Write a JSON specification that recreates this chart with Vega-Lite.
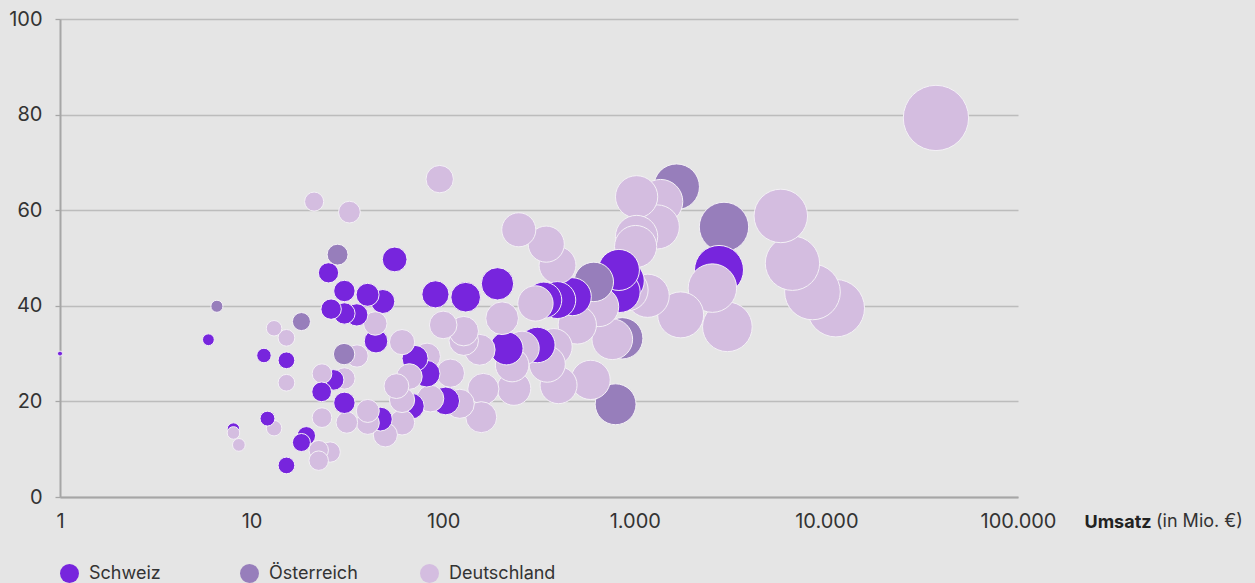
{
  "$schema": "https://vega.github.io/schema/vega-lite/v6.json",
  "width": 958,
  "height": 478,
  "autosize": {"type": "none"},
  "padding": {"left": 60, "top": 19, "right": 237, "bottom": 86},
  "background": "#e5e5e5",
  "config": {"view": {"stroke": null}, "font": "Inter"},
  "layer": [
    {
      "data": {"values": [
        {"Land": "Schweiz", "Umsatz": 1.0, "Wert": 30.0},
        {"Land": "Schweiz", "Umsatz": 5.95, "Wert": 32.9},
        {"Land": "Österreich", "Umsatz": 6.59, "Wert": 39.9},
        {"Land": "Deutschland", "Umsatz": 13.1, "Wert": 35.3},
        {"Land": "Deutschland", "Umsatz": 15.2, "Wert": 33.3},
        {"Land": "Österreich", "Umsatz": 18.2, "Wert": 36.7},
        {"Land": "Schweiz", "Umsatz": 11.6, "Wert": 29.6},
        {"Land": "Schweiz", "Umsatz": 15.2, "Wert": 28.6},
        {"Land": "Deutschland", "Umsatz": 15.2, "Wert": 23.9},
        {"Land": "Schweiz", "Umsatz": 12.1, "Wert": 16.4},
        {"Land": "Deutschland", "Umsatz": 13.1, "Wert": 14.4},
        {"Land": "Schweiz", "Umsatz": 8.04, "Wert": 14.2},
        {"Land": "Deutschland", "Umsatz": 8.04, "Wert": 13.4},
        {"Land": "Deutschland", "Umsatz": 8.58, "Wert": 10.9},
        {"Land": "Schweiz", "Umsatz": 19.3, "Wert": 12.8},
        {"Land": "Schweiz", "Umsatz": 18.2, "Wert": 11.4},
        {"Land": "Schweiz", "Umsatz": 15.2, "Wert": 6.6},
        {"Land": "Deutschland", "Umsatz": 22.4, "Wert": 9.8},
        {"Land": "Deutschland", "Umsatz": 25.7, "Wert": 9.4},
        {"Land": "Deutschland", "Umsatz": 22.4, "Wert": 7.6},
        {"Land": "Deutschland", "Umsatz": 23.3, "Wert": 16.6},
        {"Land": "Schweiz", "Umsatz": 30.5, "Wert": 19.7},
        {"Land": "Deutschland", "Umsatz": 31.4, "Wert": 15.6},
        {"Land": "Deutschland", "Umsatz": 40.4, "Wert": 15.5},
        {"Land": "Deutschland", "Umsatz": 40.4, "Wert": 18.0},
        {"Land": "Schweiz", "Umsatz": 47.0, "Wert": 16.3},
        {"Land": "Deutschland", "Umsatz": 49.9, "Wert": 13.0},
        {"Land": "Deutschland", "Umsatz": 61.0, "Wert": 15.6},
        {"Land": "Deutschland", "Umsatz": 61.0, "Wert": 20.3},
        {"Land": "Deutschland", "Umsatz": 57.0, "Wert": 23.2},
        {"Land": "Deutschland", "Umsatz": 66.6, "Wert": 25.2},
        {"Land": "Deutschland", "Umsatz": 23.3, "Wert": 25.8},
        {"Land": "Schweiz", "Umsatz": 23.2, "Wert": 22.0},
        {"Land": "Schweiz", "Umsatz": 26.8, "Wert": 24.5},
        {"Land": "Deutschland", "Umsatz": 30.5, "Wert": 24.8},
        {"Land": "Österreich", "Umsatz": 30.4, "Wert": 29.9},
        {"Land": "Deutschland", "Umsatz": 35.5, "Wert": 29.5},
        {"Land": "Schweiz", "Umsatz": 44.6, "Wert": 32.6},
        {"Land": "Deutschland", "Umsatz": 44.2, "Wert": 36.3},
        {"Land": "Schweiz", "Umsatz": 48.4, "Wert": 40.9},
        {"Land": "Schweiz", "Umsatz": 40.3, "Wert": 42.3},
        {"Land": "Schweiz", "Umsatz": 35.4, "Wert": 38.1},
        {"Land": "Schweiz", "Umsatz": 30.5, "Wert": 38.4},
        {"Land": "Schweiz", "Umsatz": 26.0, "Wert": 39.3},
        {"Land": "Schweiz", "Umsatz": 30.5, "Wert": 43.1},
        {"Land": "Schweiz", "Umsatz": 25.2, "Wert": 46.9},
        {"Land": "Österreich", "Umsatz": 28.1, "Wert": 50.7},
        {"Land": "Schweiz", "Umsatz": 55.8, "Wert": 49.7},
        {"Land": "Deutschland", "Umsatz": 61.0, "Wert": 32.4},
        {"Land": "Deutschland", "Umsatz": 21.2, "Wert": 61.8},
        {"Land": "Deutschland", "Umsatz": 32.4, "Wert": 59.6},
        {"Land": "Deutschland", "Umsatz": 95.9, "Wert": 66.5},
        {"Land": "Schweiz", "Umsatz": 71.3, "Wert": 29.0},
        {"Land": "Deutschland", "Umsatz": 82.4, "Wert": 29.4},
        {"Land": "Schweiz", "Umsatz": 82.0, "Wert": 25.8},
        {"Land": "Deutschland", "Umsatz": 109, "Wert": 25.9},
        {"Land": "Deutschland", "Umsatz": 128, "Wert": 32.7},
        {"Land": "Deutschland", "Umsatz": 100, "Wert": 36.0},
        {"Land": "Deutschland", "Umsatz": 155, "Wert": 30.8},
        {"Land": "Schweiz", "Umsatz": 214, "Wert": 31.1},
        {"Land": "Deutschland", "Umsatz": 162, "Wert": 22.6},
        {"Land": "Deutschland", "Umsatz": 158, "Wert": 16.7},
        {"Land": "Schweiz", "Umsatz": 103, "Wert": 20.1},
        {"Land": "Deutschland", "Umsatz": 122, "Wert": 19.5},
        {"Land": "Deutschland", "Umsatz": 85.7, "Wert": 20.6},
        {"Land": "Schweiz", "Umsatz": 68.2, "Wert": 19.0},
        {"Land": "Schweiz", "Umsatz": 91.1, "Wert": 42.4},
        {"Land": "Schweiz", "Umsatz": 131, "Wert": 41.8},
        {"Land": "Schweiz", "Umsatz": 192, "Wert": 44.6},
        {"Land": "Deutschland", "Umsatz": 203, "Wert": 37.4},
        {"Land": "Deutschland", "Umsatz": 128, "Wert": 34.7},
        {"Land": "Deutschland", "Umsatz": 229, "Wert": 27.6},
        {"Land": "Schweiz", "Umsatz": 310, "Wert": 31.8},
        {"Land": "Deutschland", "Umsatz": 378, "Wert": 31.4},
        {"Land": "Deutschland", "Umsatz": 349, "Wert": 27.8},
        {"Land": "Deutschland", "Umsatz": 400, "Wert": 23.4},
        {"Land": "Deutschland", "Umsatz": 234, "Wert": 22.7},
        {"Land": "Deutschland", "Umsatz": 588, "Wert": 24.5},
        {"Land": "Österreich", "Umsatz": 794, "Wert": 19.4},
        {"Land": "Deutschland", "Umsatz": 763, "Wert": 33.0},
        {"Land": "Österreich", "Umsatz": 860, "Wert": 33.2},
        {"Land": "Deutschland", "Umsatz": 501, "Wert": 36.0},
        {"Land": "Deutschland", "Umsatz": 649, "Wert": 39.8},
        {"Land": "Österreich", "Umsatz": 611, "Wert": 45.0},
        {"Land": "Deutschland", "Umsatz": 303, "Wert": 40.5},
        {"Land": "Schweiz", "Umsatz": 335, "Wert": 41.2},
        {"Land": "Schweiz", "Umsatz": 394, "Wert": 41.2},
        {"Land": "Schweiz", "Umsatz": 472, "Wert": 41.9},
        {"Land": "Deutschland", "Umsatz": 395, "Wert": 48.5},
        {"Land": "Schweiz", "Umsatz": 833, "Wert": 42.9},
        {"Land": "Schweiz", "Umsatz": 826, "Wert": 47.5},
        {"Land": "Schweiz", "Umsatz": 874, "Wert": 45.2},
        {"Land": "Deutschland", "Umsatz": 1022, "Wert": 62.8},
        {"Land": "Österreich", "Umsatz": 1653, "Wert": 64.9},
        {"Land": "Deutschland", "Umsatz": 1364, "Wert": 61.8},
        {"Land": "Deutschland", "Umsatz": 1311, "Wert": 56.5},
        {"Land": "Deutschland", "Umsatz": 1022, "Wert": 54.5},
        {"Land": "Deutschland", "Umsatz": 1010, "Wert": 52.4},
        {"Land": "Österreich", "Umsatz": 2921, "Wert": 56.5},
        {"Land": "Schweiz", "Umsatz": 2751, "Wert": 47.5},
        {"Land": "Deutschland", "Umsatz": 2541, "Wert": 43.7},
        {"Land": "Deutschland", "Umsatz": 3042, "Wert": 35.6},
        {"Land": "Deutschland", "Umsatz": 1735, "Wert": 38.1},
        {"Land": "Deutschland", "Umsatz": 1167, "Wert": 42.1},
        {"Land": "Deutschland", "Umsatz": 914, "Wert": 43.3},
        {"Land": "Deutschland", "Umsatz": 258, "Wert": 31.1},
        {"Land": "Deutschland", "Umsatz": 248, "Wert": 55.9},
        {"Land": "Deutschland", "Umsatz": 345, "Wert": 52.9},
        {"Land": "Deutschland", "Umsatz": 5780, "Wert": 58.8},
        {"Land": "Deutschland", "Umsatz": 6650, "Wert": 48.9},
        {"Land": "Deutschland", "Umsatz": 37300, "Wert": 79.3},
        {"Land": "Deutschland", "Umsatz": 8460, "Wert": 42.9},
        {"Land": "Deutschland", "Umsatz": 11200, "Wert": 39.5}
      ]},
      "mark": {"type": "circle", "opacity": 1, "stroke": "#f4f1f6", "strokeWidth": 1, "zindex": 1},
      "encoding": {
        "x": {
          "field": "Umsatz", "type": "quantitative",
          "scale": {"type": "log", "domain": [1, 100000], "nice": false},
          "axis": {
            "values": [1, 10, 100, 1000, 10000, 100000],
            "labelExpr": "replace(format(datum.value, ',d'), ',', '.')",
            "grid": false, "ticks": false,
            "domainColor": "#a6a6a6", "domainWidth": 2,
            "labelFont": "Inter", "labelFontSize": 20, "labelColor": "#333333",
            "labelPadding": 14, "labelFlush": false, "labelOverlap": false,
            "title": "Umsatz", "titleFont": "Inter", "titleFontSize": 18,
            "titleFontWeight": "bold", "titleColor": "#222222",
            "titleX": 1024, "titleY": 25, "titleAlign": "left",
            "titleBaseline": "middle", "titleAngle": 0
          }
        },
        "y": {
          "field": "Wert", "type": "quantitative",
          "scale": {"domain": [0, 100], "nice": false},
          "axis": {
            "values": [0, 20, 40, 60, 80, 100],
            "grid": true, "gridColor": "#bcbcbc", "gridWidth": 1.3,
            "domainColor": "#a6a6a6", "domainWidth": 2,
            "ticks": true, "tickSize": 5, "tickColor": "#a6a6a6", "tickWidth": 1.3,
            "labelFont": "Inter", "labelFontSize": 20, "labelColor": "#333333",
            "labelPadding": 13, "title": null
          }
        },
        "size": {
          "field": "Umsatz", "type": "quantitative",
          "scale": {"type": "log", "domain": [1, 10, 100, 1000, 10000, 100000], "range": [25, 172, 762, 1772, 3204, 5055]},
          "legend": null
        },
        "color": {
          "field": "Land", "type": "nominal",
          "scale": {"domain": ["Schweiz", "Österreich", "Deutschland"], "range": ["#7725dd", "#977ebb", "#d4bde0"]},
          "legend": {
            "title": null, "orient": "bottom", "direction": "horizontal",
            "symbolType": "circle", "symbolSize": 361, "symbolStrokeWidth": 0,
            "labelFont": "Inter", "labelFontSize": 18, "labelColor": "#333333",
            "labelOffset": 10, "columnPadding": 44, "gridAlign": "all",
            "offset": 33
          }
        },
        "order": {"field": "Umsatz", "sort": "descending"}
      }
    },
    {
      "data": {"values": [{"t": "(in Mio. €)"}]},
      "mark": {"type": "text", "align": "left", "baseline": "middle", "dx": 138, "dy": 25, "font": "Inter", "fontSize": 18, "color": "#333333"},
      "encoding": {
        "x": {"datum": 100000},
        "y": {"datum": 0},
        "text": {"field": "t"}
      }
    }
  ]
}
